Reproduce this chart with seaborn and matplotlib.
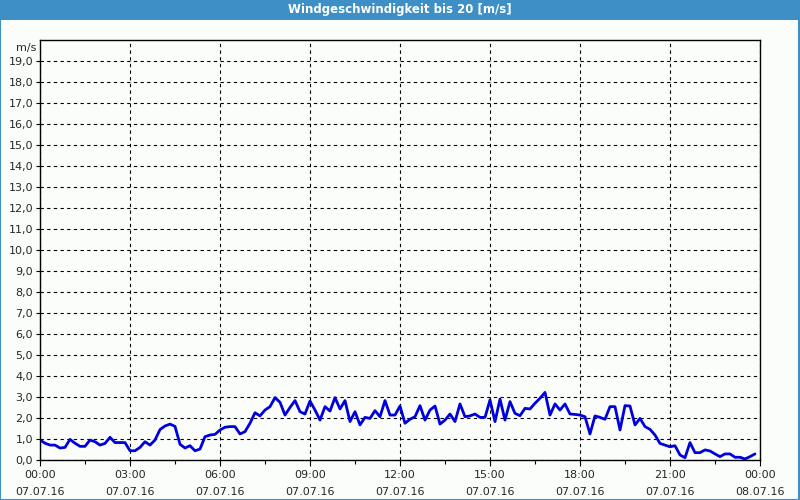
import matplotlib
matplotlib.use("Agg")
import matplotlib.pyplot as plt
from matplotlib.ticker import FuncFormatter, MultipleLocator
import seaborn as sns
import pandas as pd
import numpy as np

# 10-minute readings, 07.07.16 00:00 .. 23:50
minutes = list(range(0, 1440, 10))
speed = [
    0.95, 0.80, 0.71, 0.71, 0.57, 0.60, 0.98, 0.80, 0.65, 0.65, 0.95, 0.87,
    0.71, 0.79, 1.08, 0.83, 0.83, 0.83, 0.44, 0.44, 0.60, 0.87, 0.71, 0.95,
    1.45, 1.62, 1.71, 1.60, 0.75, 0.57, 0.68, 0.44, 0.52, 1.11, 1.19, 1.22,
    1.43, 1.56, 1.59, 1.59, 1.24, 1.35, 1.75, 2.25, 2.10, 2.38, 2.54, 2.97,
    2.75, 2.14, 2.50, 2.83, 2.30, 2.19, 2.81, 2.38, 1.90, 2.54, 2.33, 2.97,
    2.43, 2.83, 1.83, 2.30, 1.67, 2.03, 1.98, 2.35, 2.06, 2.83, 2.14, 2.14,
    2.57, 1.75, 1.94, 2.06, 2.59, 1.90, 2.38, 2.57, 1.71, 1.90, 2.19, 1.83,
    2.67, 2.06, 2.10, 2.19, 2.03, 2.03, 2.86, 1.83, 2.90, 1.90, 2.78, 2.22,
    2.11, 2.46, 2.43, 2.70, 2.94, 3.22, 2.14, 2.67, 2.38, 2.67, 2.19, 2.17,
    2.14, 2.06, 1.24, 2.10, 2.03, 1.94, 2.54, 2.54, 1.43, 2.59, 2.57, 1.67,
    1.98, 1.59, 1.46, 1.19, 0.79, 0.71, 0.63, 0.68, 0.24, 0.11, 0.83, 0.35,
    0.35, 0.48, 0.43, 0.29, 0.16, 0.29, 0.29, 0.13, 0.13, 0.05, 0.16, 0.29,
]
tick_hours = [0, 3, 6, 9, 12, 15, 18, 21, 24]
tick_labels = ["00:00\n07.07.16", "03:00\n07.07.16", "06:00\n07.07.16",
               "09:00\n07.07.16", "12:00\n07.07.16", "15:00\n07.07.16",
               "18:00\n07.07.16", "21:00\n07.07.16", "00:00\n08.07.16"]
title = "Windgeschwindigkeit bis 20 [m/s]"
unit = "m/s"

df = pd.DataFrame({"hour": np.array(minutes) / 60.0, "speed": speed})

sns.set_theme(style="white")
plt.rcParams["font.family"] = ["DejaVu Sans"]

bg = "#fbfdfb"
blue_bar = "#3d8fc6"
fig = plt.figure(figsize=(8, 5), dpi=100, facecolor=bg)
ax = fig.add_axes([0.05, 0.08, 0.90, 0.84])
ax.set_facecolor(bg)

sns.lineplot(data=df, x="hour", y="speed", ax=ax, color="#0000dd", linewidth=2)

ax.set_xlim(0, 24)
ax.set_ylim(0, 20)
ax.set_xticks(tick_hours)
ax.set_xticklabels(tick_labels, fontsize=8, linespacing=1.9)
ax.xaxis.set_minor_locator(MultipleLocator(1.5))
ax.set_yticks(range(0, 20))
ax.yaxis.set_major_formatter(FuncFormatter(lambda v, p: f"{v:.1f}".replace(".", ",")))
ax.tick_params(axis="y", labelsize=8, length=3, width=0.8, color="black", direction="out", pad=2, left=True)
ax.tick_params(axis="x", which="major", length=4, width=0.8, color="black", direction="out", pad=3, bottom=True)
ax.tick_params(axis="x", which="minor", length=3, width=0.8, color="black", direction="out", bottom=True)
ax.set_xlabel("")
ax.set_ylabel("")

ax.grid(True, which="major", color="black", linestyle=(0, (3, 3)), linewidth=0.8)
for s in ax.spines.values():
    s.set_color("black")
    s.set_linewidth(1)

fig.text(0.045, 0.905, unit, ha="right", va="center", fontsize=8)

# title bar
fig.patches.append(plt.Rectangle((0, 0.96), 1, 0.04, transform=fig.transFigure,
                                 facecolor=blue_bar, edgecolor="none", zorder=0))
fig.patches.append(plt.Rectangle((0.0005, 0.001), 0.998, 0.998, transform=fig.transFigure,
                                 facecolor="none", edgecolor=blue_bar, linewidth=1.5, zorder=1))
fig.text(0.5, 0.98, title, ha="center", va="center", color="white",
         fontsize=8.5, fontweight="bold")

fig.savefig("out.png", dpi=100, facecolor=bg)
